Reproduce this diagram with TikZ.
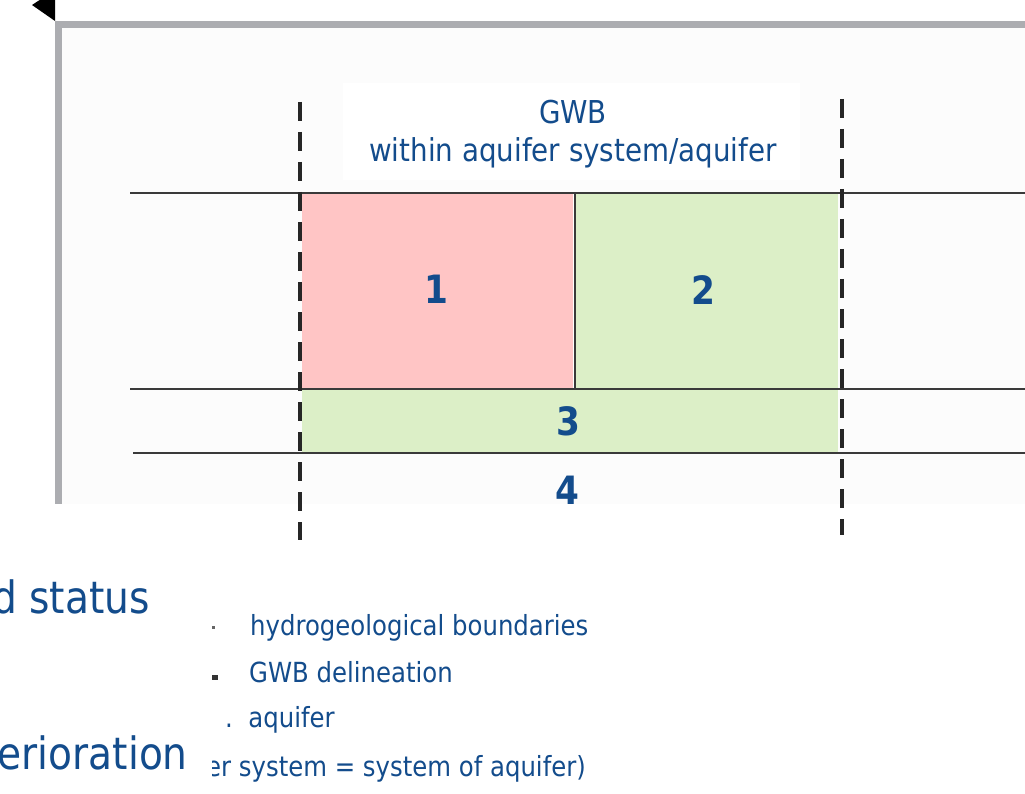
\documentclass[tikz,border=0pt]{standalone}
\usepackage{fontspec}
\setmainfont{DejaVu Sans}[FakeStretch=0.88]
\definecolor{framegray}{HTML}{ACADB1}
\definecolor{panel}{HTML}{FCFCFC}
\definecolor{inkblue}{HTML}{134C8C}
\definecolor{pinkfill}{HTML}{FFC5C5}
\definecolor{greenfill}{HTML}{DCEFC7}
\definecolor{rule}{HTML}{3A3A3A}
\begin{document}
\begin{tikzpicture}[x=1pt,y=-1pt,
  zone/.style={draw=none,inner sep=0pt,outer sep=0pt,rectangle},
  layer/.style={line width=2.2pt,draw=rule},
  divide/.style={line width=4.5pt,draw=black!85,dash pattern=on 19pt off 11pt},
  num/.style={font=\fontsize{39}{42}\selectfont\bfseries,text=inkblue,inner sep=0pt},
  title/.style={font=\fontsize{31.5}{38}\selectfont,text=inkblue,align=center,inner sep=0pt},
  small/.style={font=\fontsize{27.7}{30}\selectfont,text=inkblue,inner sep=0pt,anchor=base west},
  big/.style={font=\fontsize{44.5}{50}\selectfont,text=inkblue,inner sep=0pt,anchor=base east}]
\useasboundingbox (0,0) rectangle (1025,794);
\fill[white] (0,0) rectangle (1025,794);

% slide frame and panel
\fill[framegray] (55,21) rectangle (1025,504);
\fill[panel] (62,28) rectangle (1025,504);
\fill[black] (32,5) -- (55,-10) -- (55,21) -- cycle;
\fill[white] (343,83) rectangle (800,180);
\fill[white] (212,504) rectangle (1025,794);

% zones
\node[zone,fill=pinkfill,minimum width=273pt,minimum height=196pt] (b1) at (438.5,291) {};
\node[zone,fill=greenfill,minimum width=263pt,minimum height=196pt] (b2) at (706.5,291) {};
\node[zone,fill=greenfill,minimum width=536pt,minimum height=64pt] (b3) at (570,421) {};
\draw[white,line width=1pt] ([xshift=-2pt]b1.north east) -- ([xshift=-2pt]b1.south east);
\draw[rule,line width=1.5pt] (b1.north east) -- (b1.south east);

% layer boundaries
\coordinate (l1a) at (130,193); \coordinate (l1b) at (1025,193);
\coordinate (l2a) at (130,389); \coordinate (l2b) at (1025,389);
\coordinate (l3a) at (133,453); \coordinate (l3b) at (1025,453);
\draw[layer] (l1a) -- (l1b);
\draw[layer] (l2a) -- (l2b);
\draw[layer] (l3a) -- (l3b);

% body boundaries
\coordinate (d1a) at (300,102); \coordinate (d1b) at (300,540);
\coordinate (d2a) at (842,99);  \coordinate (d2b) at (842,535);
\draw[divide] (d1a) -- (d1b);
\draw[divide] (d2a) -- (d2b);

% labels
\node[title] (t) at (573,134) {GWB\\within aquifer system/aquifer};
\node[num] (n1) at (436,289) {1};
\node[num] (n2) at (703,290) {2};
\node[num] (n3) at (568,421) {3};
\node[num] (n4) at (567,490) {4};

% text beneath
\node[big] (s1) at (150,613) {d status};
\node[big] (s2) at (188,769) {erioration};
\fill[black!60] (212,626) rectangle (215,629);
\fill[black!80] (212,675) rectangle (218,680);
\node[small] (h1) at (250,635) {hydrogeological boundaries};
\node[small] (h2) at (249,682) {GWB delineation};
\node[small] (h3) at (225,727) {.\ \ aquifer};
\begin{scope}
  \clip (212,740) rectangle (1025,794);
  \node[small] (h4) at (206,776) {er system = system of aquifer)};
\end{scope}
\end{tikzpicture}
\end{document}
